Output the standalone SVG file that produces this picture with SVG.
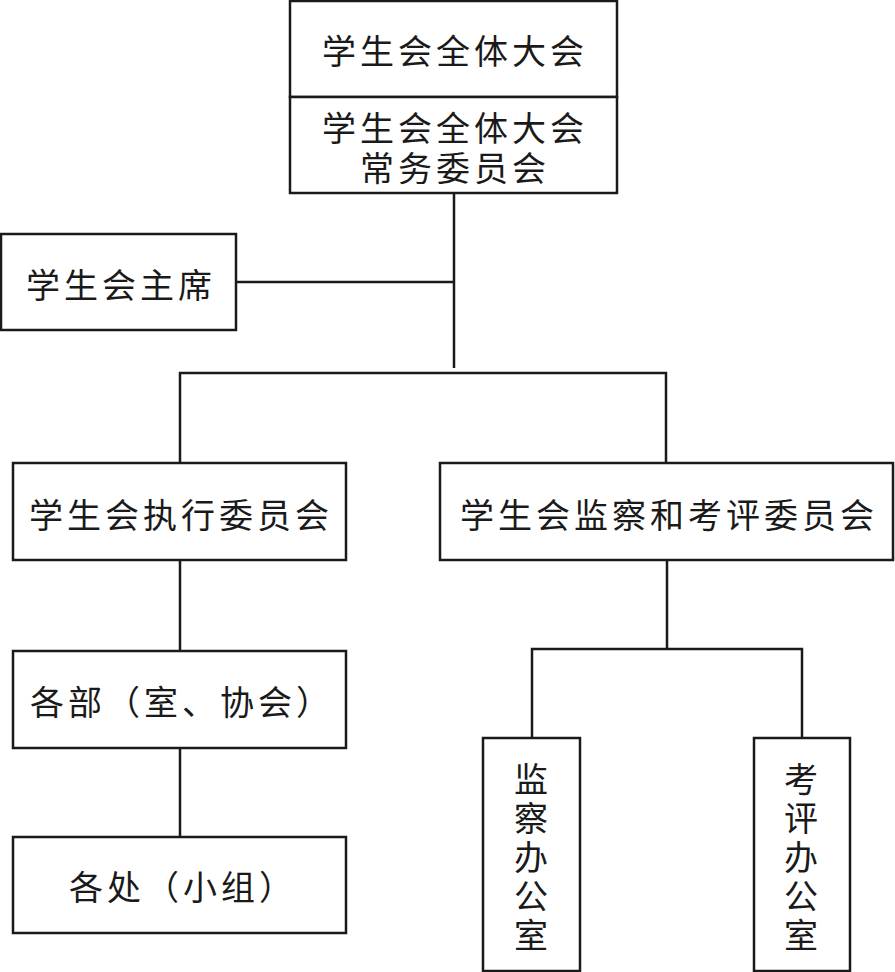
<svg xmlns="http://www.w3.org/2000/svg" width="895" height="972" viewBox="0 0 895 972">
<style>
.box{fill:#fff;stroke:#1a1a1a;stroke-width:2.5}
line,path{stroke:#1a1a1a;stroke-width:2.5;fill:none}
text{font-family:"Noto Sans CJK SC","Noto Sans",sans-serif;font-size:34px;fill:#1a1a1a;text-anchor:middle;dominant-baseline:central;letter-spacing:4px}
.v{writing-mode:vertical-rl;letter-spacing:5px;dominant-baseline:auto}
</style>
<rect width="895" height="972" fill="#fff"/>
<g id="connectors">
<line x1="454" y1="193" x2="454" y2="368"/>
<line x1="236" y1="282" x2="454" y2="282"/>
<path d="M180 463 V373 H666 V463"/>
<line x1="180" y1="560" x2="180" y2="651"/>
<line x1="180" y1="748" x2="180" y2="837"/>
<line x1="667" y1="560" x2="667" y2="649"/>
<path d="M532 738 V649 H802 V738"/>
</g>
<g id="assembly">
<rect class="box" x="290" y="1" width="327" height="96"/>
<text x="455" y="49">学生会全体大会</text>
</g>
<g id="standing">
<rect class="box" x="290" y="97" width="327" height="96"/>
<text x="455" y="126">学生会全体大会</text>
<text x="455" y="166">常务委员会</text>
</g>
<g id="chair">
<rect class="box" x="1" y="234" width="235" height="96"/>
<text x="121" y="283">学生会主席</text>
</g>
<g id="exec">
<rect class="box" x="13" y="463" width="333" height="97"/>
<text x="181" y="513">学生会执行委员会</text>
</g>
<g id="supervision">
<rect class="box" x="440" y="463" width="453" height="97"/>
<text x="669" y="513">学生会监察和考评委员会</text>
</g>
<g id="depts">
<rect class="box" x="13" y="651" width="333" height="97"/>
<text x="182" y="700">各部（室、协会）</text>
</g>
<g id="groups">
<rect class="box" x="13" y="837" width="333" height="96"/>
<text x="183" y="885">各处（小组）</text>
</g>
<g id="supoffice">
<rect class="box" x="483" y="738" width="97" height="233"/>
<text class="v" x="531" y="860">监察办公室</text>
</g>
<g id="evaloffice">
<rect class="box" x="754" y="738" width="96" height="233"/>
<text class="v" x="801" y="860">考评办公室</text>
</g>
</svg>
